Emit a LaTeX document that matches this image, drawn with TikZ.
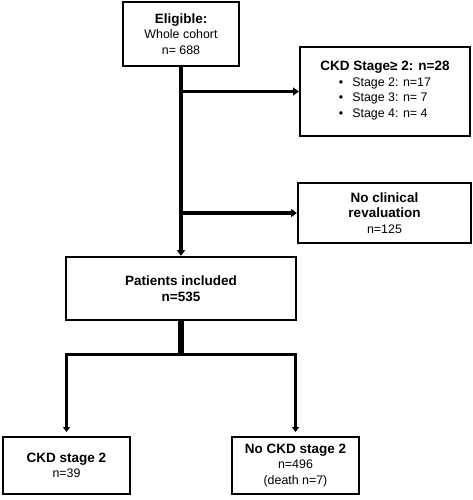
\documentclass[tikz,border=0pt]{standalone}
\usepackage{fontspec}
\setmainfont{Liberation Sans}
\usetikzlibrary{arrows.meta,
	calc,
	positioning}

\tikzset{
	box/.style={draw, line width=2pt, align=center, inner sep=2pt,
		font=\fontsize{12.4}{15.5}\selectfont},
	flow/.style={line width=3.2pt, -{Triangle[length=6pt,width=8pt]}},
	branch/.style={line width=3pt, -{Triangle[length=5pt,width=7pt]}, shorten >=4pt},
}
\newcommand{\hd}[1]{{\fontsize{13.5}{15.5}\selectfont\bfseries #1}}

\begin{document}
\begin{tikzpicture}[x=1pt, y=-1pt]
	\useasboundingbox (0,0) rectangle (472,500);
	% boxes
	\node[box, minimum width=116pt, minimum height=64pt] (elig) at (181,34)
		{\hd{Eligible:}\\Whole cohort\\n= 688};
	\node[box, minimum width=170pt, minimum height=89pt] (ckd) at (385,91.5)
		{\hd{CKD Stage≥ 2: n=28}\\[1pt]
		\begin{tabular}{@{}l@{}}
			•\hspace{9pt}Stage 2: n=17\\
			•\hspace{9pt}Stage 3: n= 7\\
			•\hspace{9pt}Stage 4: n= 4
		\end{tabular}};
	\node[box, minimum width=173pt, minimum height=60pt] (noeval) at (384.5,213)
		{\hd{No clinical}\\\hd{revaluation}\\n=125};
	\node[box, minimum width=230pt, minimum height=63pt] (incl) at (181,288.5)
		{\hd{Patients included}\\\hd{n=535}};
	\node[box, minimum width=127pt, minimum height=57pt] (stage2) at (66.5,465.5)
		{\hd{CKD stage 2}\\n=39};
	\node[box, minimum width=127pt, minimum height=57pt] (nostage2) at (295.5,465.5)
		{\hd{No CKD stage 2}\\n=496\\(death n=7)};
	% connectors
	\draw[flow] (elig.south) -- (incl.north);
	\draw[flow] (ckd.west -| elig.south) -- (ckd.west);
	\draw[flow] (noeval.west -| elig.south) -- (noeval.west);
	\coordinate (split) at ($(incl.south)+(0,33)$);
	\draw[line width=5.5pt] (incl.south) -- (split);
	\draw[branch] (split) -| (stage2.north);
	\draw[branch] (split) -| (nostage2.north);
\end{tikzpicture}
\end{document}
